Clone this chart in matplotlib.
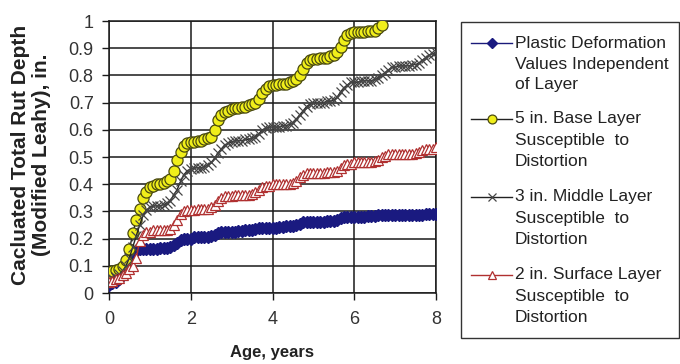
import matplotlib

matplotlib.use("Agg")

import matplotlib.pyplot as plt
from matplotlib.lines import Line2D
from matplotlib.patches import Rectangle
from matplotlib.ticker import FuncFormatter, MultipleLocator

plt.rcParams["font.family"] = ["Liberation Sans", "DejaVu Sans"]

# monthly readings, age in years = month / 12
plastic = [
    0.03, 0.035, 0.04, 0.05, 0.065, 0.09, 0.125, 0.15, 0.155, 0.16, 0.16, 0.16,
    0.16, 0.16, 0.16, 0.165, 0.165, 0.165, 0.17, 0.175, 0.185, 0.195, 0.20, 0.20,
    0.20, 0.205, 0.205, 0.205, 0.205, 0.205, 0.21, 0.215, 0.22, 0.225, 0.225, 0.225,
    0.225, 0.225, 0.228, 0.228, 0.23, 0.23, 0.23, 0.235, 0.24, 0.24, 0.24, 0.24,
    0.24, 0.24, 0.242, 0.242, 0.245, 0.245, 0.245, 0.25, 0.255, 0.26, 0.26, 0.26,
    0.26, 0.26, 0.262, 0.262, 0.265, 0.265, 0.265, 0.27, 0.275, 0.28, 0.28, 0.28,
    0.28, 0.28, 0.28, 0.28, 0.282, 0.282, 0.282, 0.285, 0.285, 0.285, 0.285, 0.285,
    0.285, 0.285, 0.285, 0.285, 0.287, 0.287, 0.287, 0.288, 0.288, 0.29, 0.29, 0.29,
    0.29,
]
base_5in = [
    0.07, 0.08, 0.085, 0.09, 0.10, 0.12, 0.16, 0.22, 0.27, 0.31, 0.35, 0.37,
    0.39, 0.395, 0.40, 0.40, 0.405, 0.41, 0.42, 0.45, 0.49, 0.52, 0.54, 0.55,
    0.555, 0.555, 0.56, 0.56, 0.565, 0.57, 0.575, 0.60, 0.635, 0.655, 0.665, 0.67,
    0.675, 0.68, 0.68, 0.685, 0.685, 0.69, 0.695, 0.70, 0.715, 0.735, 0.75, 0.76,
    0.765, 0.765, 0.77, 0.77, 0.77, 0.775, 0.78, 0.785, 0.80, 0.825, 0.845, 0.855,
    0.86, 0.86, 0.865, 0.865, 0.865, 0.87, 0.875, 0.885, 0.905, 0.93, 0.95, 0.955,
    0.96, 0.96, 0.96, 0.96, 0.965, 0.965, 0.965, 0.975, 0.985,
]
middle_3in = [
    0.05, 0.055, 0.06, 0.07, 0.08, 0.10, 0.13, 0.17, 0.21, 0.25, 0.285, 0.305,
    0.315, 0.32, 0.32, 0.32, 0.325, 0.33, 0.34, 0.36, 0.38, 0.41, 0.435, 0.45,
    0.455, 0.46, 0.46, 0.46, 0.465, 0.47, 0.48, 0.495, 0.515, 0.53, 0.545, 0.55,
    0.555, 0.56, 0.56, 0.56, 0.565, 0.565, 0.57, 0.575, 0.585, 0.60, 0.605, 0.61,
    0.61, 0.61, 0.61, 0.615, 0.615, 0.62, 0.625, 0.64, 0.655, 0.67, 0.685, 0.695,
    0.70, 0.70, 0.70, 0.70, 0.705, 0.705, 0.71, 0.72, 0.74, 0.755, 0.765, 0.775,
    0.775, 0.775, 0.78, 0.78, 0.78, 0.78, 0.785, 0.79, 0.80, 0.81, 0.82, 0.83,
    0.83, 0.835, 0.835, 0.835, 0.835, 0.84, 0.84, 0.845, 0.855, 0.865, 0.875, 0.88,
    0.885,
]
surface_2in = [
    0.04, 0.045, 0.05, 0.055, 0.065, 0.075, 0.09, 0.10, 0.13, 0.19, 0.215, 0.225,
    0.225, 0.23, 0.23, 0.23, 0.23, 0.23, 0.235, 0.25, 0.27, 0.29, 0.30, 0.305,
    0.305, 0.305, 0.31, 0.31, 0.31, 0.31, 0.315, 0.325, 0.34, 0.35, 0.355, 0.355,
    0.355, 0.36, 0.36, 0.36, 0.36, 0.36, 0.365, 0.37, 0.38, 0.39, 0.395, 0.395,
    0.40, 0.40, 0.40, 0.40, 0.40, 0.40, 0.405, 0.41, 0.425, 0.435, 0.44, 0.44,
    0.44, 0.44, 0.44, 0.44, 0.445, 0.445, 0.445, 0.45, 0.46, 0.47, 0.475, 0.475,
    0.48, 0.48, 0.48, 0.48, 0.48, 0.48, 0.485, 0.49, 0.50, 0.505, 0.51, 0.51,
    0.51, 0.51, 0.51, 0.51, 0.51, 0.51, 0.515, 0.52, 0.525, 0.53, 0.53, 0.53,
    0.535,
]

labels = [
    "Plastic Deformation\nValues Independent\nof Layer",
    "5 in. Base Layer\nSusceptible  to\nDistortion",
    "3 in. Middle Layer\nSusceptible  to\nDistortion",
    "2 in. Surface Layer\nSusceptible  to\nDistortion",
]

W, H = 680, 364


def ages(values):
    return [m / 12 for m in range(len(values))]


def fx(px):
    return px / W


def fy(py):
    return 1 - py / H


fig = plt.figure(figsize=(6.8, 3.64), dpi=100)
ax = fig.add_axes([fx(109), fy(293), fx(436) - fx(109), fy(21) - fy(293)])

lines = [
    dict(color="#1a1a7a", lw=1.0),
    dict(color="#222222", lw=1.0),
    dict(color="#222222", lw=1.0),
    dict(color="#b03030", lw=1.0),
]
marks = [
    dict(marker="D", ms=6, mfc="#1a1a80", mec="#1a1a80"),
    dict(marker="o", ms=8, mfc="#f0ee1a", mec="#4a4a10", mew=0.9),
    dict(marker="x", ms=7.5, mec="#454545", mew=0.9),
    dict(marker="^", ms=7.5, mfc="white", mec="#b03030", mew=0.9),
]
series = [plastic, base_5in, middle_3in, surface_2in]

for i, (vals, ln, mk) in enumerate(zip(series, lines, marks)):
    ax.plot(ages(vals), vals, zorder=3 + i, **ln, **mk)

ax.set_xlim(0, 8)
ax.set_ylim(0, 1)
ax.xaxis.set_major_locator(MultipleLocator(2))
ax.yaxis.set_major_locator(MultipleLocator(0.1))
ax.yaxis.set_major_formatter(FuncFormatter(lambda v, _: f"{v:g}"))
ax.grid(True, color="#1a1a1a", lw=1.1)
ax.set_axisbelow(True)
for s in ax.spines.values():
    s.set_color("#1a1a1a")
    s.set_linewidth(1.1)
ax.tick_params(direction="out", length=5, width=1.0, labelsize=13,
               colors="#1a1a1a", labelcolor="#333333")
ax.tick_params(axis="x", pad=8)
ax.tick_params(axis="y", pad=6)

fig.text(fx(272), fy(353), "Age, years", fontsize=12, fontweight="bold",
         ha="center", va="center", color="#222222")
fig.text(fx(31), fy(155), "Cacluated Total Rut Depth\n(Modified Leahy), in.",
         fontsize=15, fontweight="bold", rotation=90, ha="center", va="center",
         multialignment="center", linespacing=1.1, color="#222222")

# legend drawn by hand so each handle sits on the first line of its label
fig.add_artist(Rectangle((fx(461), fy(338)), fx(679) - fx(461), fy(22) - fy(338),
                         transform=fig.transFigure, facecolor="white",
                         edgecolor="#333333", lw=1.0))
entry_top = [43, 119, 197, 275]
for lab, ln, mk, y0 in zip(labels, lines, marks, entry_top):
    fig.add_artist(Line2D([fx(471), fx(512)], [fy(y0), fy(y0)],
                          transform=fig.transFigure, **ln))
    small = dict(mk)
    small["ms"] = mk["ms"] * 0.8
    fig.add_artist(Line2D([fx(491.5)], [fy(y0)], transform=fig.transFigure,
                          linestyle="none", **small))
    for k, line in enumerate(lab.split("\n")):
        fig.text(fx(515), fy(y0 + 21 * k), line, fontsize=12.5, ha="left",
                 va="center", color="#222222")

fig.savefig("out.png", dpi=100)
